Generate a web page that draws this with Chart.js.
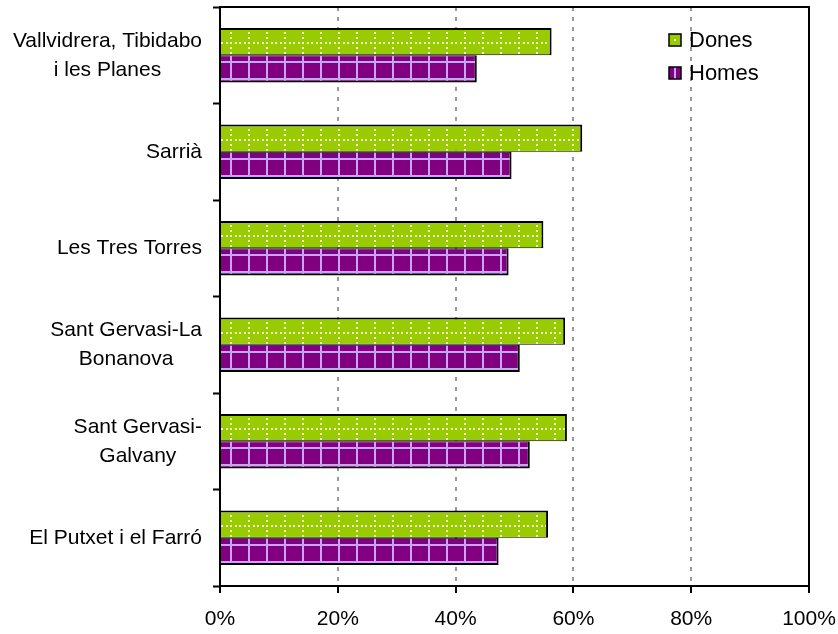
<!DOCTYPE html>
<html>
<head>
<meta charset="utf-8">
<script src="https://cdn.jsdelivr.net/npm/chart.js@4.4.1/dist/chart.umd.min.js"></script>
<style>
  html, body { margin: 0; padding: 0; background: #fff; }
  #wrap { width: 838px; height: 634px; position: relative; }
</style>
</head>
<body>
<div id="wrap"><canvas id="myChart"></canvas></div>
<script>
// data (percent)
var categories = [
	['Vallvidrera, Tibidabo', 'i les Planes'],
	'Sarrià',
	'Les Tres Torres',
	['Sant Gervasi-La', 'Bonanova'],
	['Sant Gervasi-', 'Galvany'],
	'El Putxet i el Farró'
];
var seriesNames = ['Dones', 'Homes'];
var dones = [56.3, 61.5, 54.9, 58.6, 58.9, 55.7];
var homes = [43.6, 49.5, 49.0, 50.9, 52.6, 47.3];
var xTicks = [0, 20, 40, 60, 80, 100];

var FONT = '"Liberation Sans", Arial, sans-serif';
var GREEN = '#99cc00';
var PURPLE = '#800080';
var LAVENDER = '#c9a3f5';

Chart.defaults.font.family = FONT;
Chart.defaults.color = '#000';

// hatch patterns like the excel fills
var patCache = {};
function makePattern(kind, offY) {
	offY = Math.round(offY);
	var key = kind + offY;
	if (patCache[key]) return patCache[key];
	var c = document.createElement('canvas');
	var g = c.getContext('2d');
	var i;
	if (kind === 'd') {
		c.width = 18; c.height = 30;
		g.fillStyle = GREEN;
		g.fillRect(0, 0, 18, 30);
		g.fillStyle = 'rgba(255,255,225,0.9)';
		for (i = 0; i < 30; i += 5) g.fillRect(14, i, 2, 2);
		g.fillRect(1, 0, 2, 2);
		g.fillRect(5, 0, 2, 2);
		g.fillRect(10, 0, 2, 2);
	} else {
		c.width = 18; c.height = 17;
		g.fillStyle = PURPLE;
		g.fillRect(0, 0, 18, 17);
		g.fillStyle = LAVENDER;
		g.fillRect(14, 0, 2, 17);
		g.fillRect(0, 0, 18, 2);
	}
	var p = document.getElementById('myChart').getContext('2d').createPattern(c, 'repeat');
	p.setTransform(new DOMMatrix([1, 0, 0, 1, 0, offY]));
	patCache[key] = p;
	return p;
}

function barFill(kind, fallback) {
	return function(c) {
		var y = c.chart.scales && c.chart.scales.y;
		if (c.type !== 'data' || !y || y.height == null) return fallback;
		var cy = y.getPixelForValue(c.dataIndex);
		return kind === 'd' ? makePattern('d', cy - 13) : makePattern('h', cy + 6);
	};
}

var labelRight = 202;
var labelLineH = 29;

var boxPlugin = {
	id: 'boxAndLabels',
	afterDraw: function(chart) {
		var ctx = chart.ctx, a = chart.chartArea, y = chart.scales.y;
		ctx.save();
		// top and right border
		ctx.strokeStyle = '#000';
		ctx.lineWidth = 2;
		ctx.beginPath();
		ctx.moveTo(a.left - 1, a.top);
		ctx.lineTo(a.right, a.top);
		ctx.lineTo(a.right, a.bottom);
		ctx.stroke();

		// category labels: block right aligned, lines centred
		ctx.font = '21px ' + FONT;
		ctx.fillStyle = '#000';
		ctx.textAlign = 'center';
		ctx.textBaseline = 'middle';
		categories.forEach(function(lab, i) {
			var lines = Array.isArray(lab) ? lab : [lab];
			var w = Math.max.apply(null, lines.map(function(l) { return ctx.measureText(l).width; }));
			var cx = labelRight - w / 2;
			var cy = y.getPixelForValue(i);
			lines.forEach(function(l, k) {
				ctx.fillText(l, cx, cy + (k - (lines.length - 1) / 2) * labelLineH);
			});
		});

		// legend
		ctx.font = '22px ' + FONT;
		ctx.textAlign = 'left';
		var lx = 669, rows = [40, 73];
		seriesNames.forEach(function(name, k) {
			var by = rows[k] - 6;
			ctx.fillStyle = k === 0 ? GREEN : PURPLE;
			ctx.fillRect(lx, by, 12, 12);
			if (k === 0) {
				ctx.fillStyle = 'rgba(255,255,225,0.9)';
				ctx.fillRect(lx + 5, by + 5, 2, 2);
			} else {
				ctx.fillStyle = LAVENDER;
				ctx.fillRect(lx + 5, by, 2, 12);
			}
			ctx.strokeStyle = '#000';
			ctx.lineWidth = 1.5;
			ctx.strokeRect(lx, by, 12, 12);
			ctx.fillStyle = '#000';
			ctx.fillText(name, lx + 20, rows[k] + 1);
		});
		ctx.restore();
	}
};

var chartdata = {
	labels: categories,
	datasets: [
		{
			label: seriesNames[0],
			data: dones,
			backgroundColor: barFill('d', GREEN),
			borderColor: '#000',
			borderWidth: {top: 2, right: 2, bottom: 1, left: 0},
			categoryPercentage: 0.565,
			barPercentage: 1
		},
		{
			label: seriesNames[1],
			data: homes,
			backgroundColor: barFill('h', PURPLE),
			borderColor: '#000',
			borderWidth: {top: 1, right: 2, bottom: 2, left: 0},
			categoryPercentage: 0.565,
			barPercentage: 1
		}
	]
};

var ctx = document.getElementById('myChart');

var barGraph = new Chart(ctx, {
	type: 'bar',
	data: chartdata,
	plugins: [boxPlugin],
	options: {
		indexAxis: 'y',
		responsive: true,
		maintainAspectRatio: false,
		animation: false,
		events: [],
		layout: { padding: { top: 7, right: 29, left: 0, bottom: 0 } },
		plugins: {
			legend: { display: false },
			tooltip: { enabled: false }
		},
		scales: {
			x: {
				min: 0,
				max: 100,
				afterBuildTicks: function(scale) {
					scale.ticks = xTicks.map(function(v) { return {value: v}; });
				},
				afterFit: function(scale) {
					scale.height = 48;
					scale.paddingLeft = 0;
					scale.paddingRight = 0;
				},
				ticks: {
					font: { size: 21 },
					color: '#000',
					padding: 14,
					maxRotation: 0,
					callback: function(v) { return v + '%'; }
				},
				grid: {
					color: function(c) {
						var v = c.tick ? c.tick.value : 0;
						return (v > 0 && v < 100) ? '#999' : 'rgba(0,0,0,0)';
					},
					lineWidth: 2,
					tickColor: '#000',
					tickWidth: 2,
					tickLength: 7
				},
				border: { display: true, color: '#000', width: 2, dash: [4, 6] }
			},
			y: {
				afterFit: function(scale) { scale.width = 220; },
				ticks: { display: false },
				grid: {
					drawOnChartArea: false,
					color: '#000',
					tickColor: '#000',
					tickWidth: 2,
					tickLength: 7
				},
				border: { display: true, color: '#000', width: 2 }
			}
		}
	}
});
</script>
</body>
</html>
